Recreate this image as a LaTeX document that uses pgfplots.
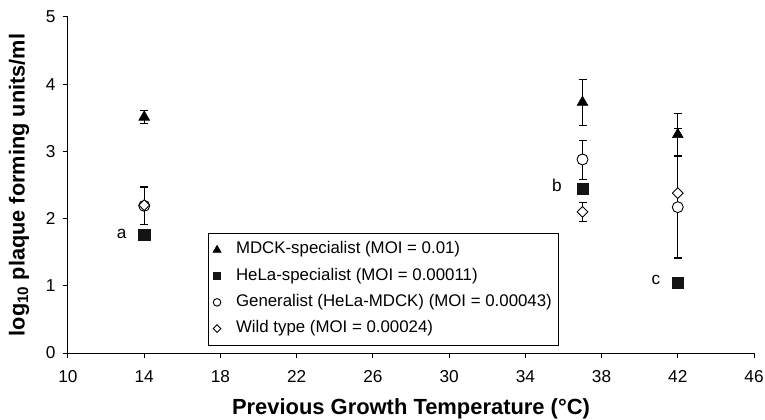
\documentclass[border=0pt]{standalone}
\usepackage{fontspec}
\setmainfont{Liberation Sans}
\usepackage{pgfplots}
\pgfplotsset{compat=1.18}

\pgfplotstableread{
x y e
14 3.51 0.10
37 3.73 0.34
42 3.25 0.31
}\mdck
\pgfplotstableread{
x y e
14 1.76 0.00
37 2.44 0.00
42 1.05 0.00
}\hela
\pgfplotstableread{
x y e
14 2.19 0.28
37 2.88 0.29
42 2.17 0.76
}\gen
\pgfplotstableread{
x y e
14 2.20 0.28
37 2.10 0.14
42 2.38 0.96
}\wild

\pgfplotsset{
  legtri/.style={legend image code/.code={\path[draw=none,fill=none] (0bp,-5bp) rectangle (21bp,5bp); \draw[##1, mark size=4.6bp] plot coordinates {(5bp,0bp)};}},
  legsq/.style={legend image code/.code={\path[draw=none,fill=none] (0bp,-5bp) rectangle (21bp,5bp); \draw[##1, mark size=3.6bp] plot coordinates {(5bp,0bp)};}},
  legci/.style={legend image code/.code={\path[draw=none,fill=none] (0bp,-5bp) rectangle (21bp,5bp); \draw[##1, mark size=3.8bp] plot coordinates {(5bp,0bp)};}},
  legdi/.style={legend image code/.code={\path[draw=none,fill=none] (0bp,-5bp) rectangle (21bp,5bp); \draw[##1, mark size=2.7bp] plot coordinates {(5bp,0bp)};}},
}

\begin{document}
\begin{tikzpicture}
\path[use as bounding box] (-68bp,-67bp) rectangle (697bp,353bp);
\begin{axis}[
  at={(0,0)}, anchor=south west, scale only axis,
  width=686bp, height=336bp,
  xmin=10, xmax=46, ymin=0, ymax=5,
  xtick={10,14,...,46}, ytick={0,1,...,5},
  axis x line=bottom, axis y line=left,
  axis line style={-, line width=1bp},
  tick align=outside, major tick length=5bp,
  tick style={line width=1bp, black},
  /pgf/number format/assume math mode=true,
  ticklabel style={font=\fontsize{17.3}{19}\selectfont},
  xticklabel style={yshift=-9bp},
  yticklabel style={xshift=-4bp},
  xlabel={\textbf{Previous Growth Temperature (°C)}},
  ylabel={\textbf{log\textsubscript{10} plaque forming units/ml}},
  every axis x label/.style={at={(axis description cs:0.5,0)}, anchor=center, yshift=-56bp, font=\fontsize{22}{24}\selectfont},
  every axis y label/.style={at={(axis description cs:0,0.5)}, anchor=center, xshift=-49bp, rotate=90, font=\fontsize{21.8}{24}\selectfont},
  legend style={at={(axis description cs:0.2035,0.0208)}, anchor=south west,
    draw=black, line width=0.9bp, fill=white,
    font=\fontsize{16.9}{18}\selectfont,
    nodes={inner ysep=2bp, inner xsep=3bp, text height=12bp, text depth=4bp},
    row sep=6.2bp, inner xsep=4bp, inner ysep=7bp},
  legend cell align=left,
]
% error bars first
\addplot[only marks, mark=none, forget plot, error bars/.cd, y dir=both, y explicit,
  error bar style={line width=0.8bp, black},
  error mark options={rotate=90, mark size=4bp, line width=0.8bp, black}]
  table[x=x, y=y, y error=e] {\mdck};
\addplot[only marks, mark=none, forget plot, error bars/.cd, y dir=both, y explicit,
  error bar style={line width=0.8bp, black},
  error mark options={rotate=90, mark size=4bp, line width=0.8bp, black}]
  table[x=x, y=y, y error=e] {\gen};
\addplot[only marks, mark=none, forget plot, error bars/.cd, y dir=both, y explicit,
  error bar style={line width=0.8bp, black},
  error mark options={rotate=90, mark size=4bp, line width=0.8bp, black}]
  table[x=x, y=y, y error=e] {\wild};
% markers
\addplot[only marks, mark=triangle*, mark size=6.2bp, mark options={fill=black, draw=black, line width=0.6bp}, legtri]
  table[x=x, y=y] {\mdck};
\addlegendentry{MDCK-specialist (MOI = 0.01)}
\addplot[only marks, mark=square*, mark size=5.6bp, mark options={fill=black!92, draw=black!92, line width=0.6bp}, legsq]
  table[x=x, y=y] {\hela};
\addlegendentry{HeLa-specialist (MOI = 0.00011)}
\addplot[only marks, mark=*, mark size=5.5bp, mark options={fill=white, draw=black, line width=0.9bp}, legci]
  table[x=x, y=y] {\gen};
\addlegendentry{Generalist (HeLa-MDCK) (MOI = 0.00043)}
\addplot[only marks, mark=square*, mark size=3.8bp, mark options={rotate=45, fill=white, draw=black, line width=0.9bp}, legdi]
  table[x=x, y=y] {\wild};
\addlegendentry{Wild type (MOI = 0.00024)}
\node[font=\fontsize{17.3}{19}\selectfont] at (axis cs:12.82,1.77) {a};
\node[font=\fontsize{17.3}{19}\selectfont] at (axis cs:35.66,2.50) {b};
\node[font=\fontsize{17.3}{19}\selectfont] at (axis cs:40.85,1.09) {c};
\end{axis}
\end{tikzpicture}
\end{document}
